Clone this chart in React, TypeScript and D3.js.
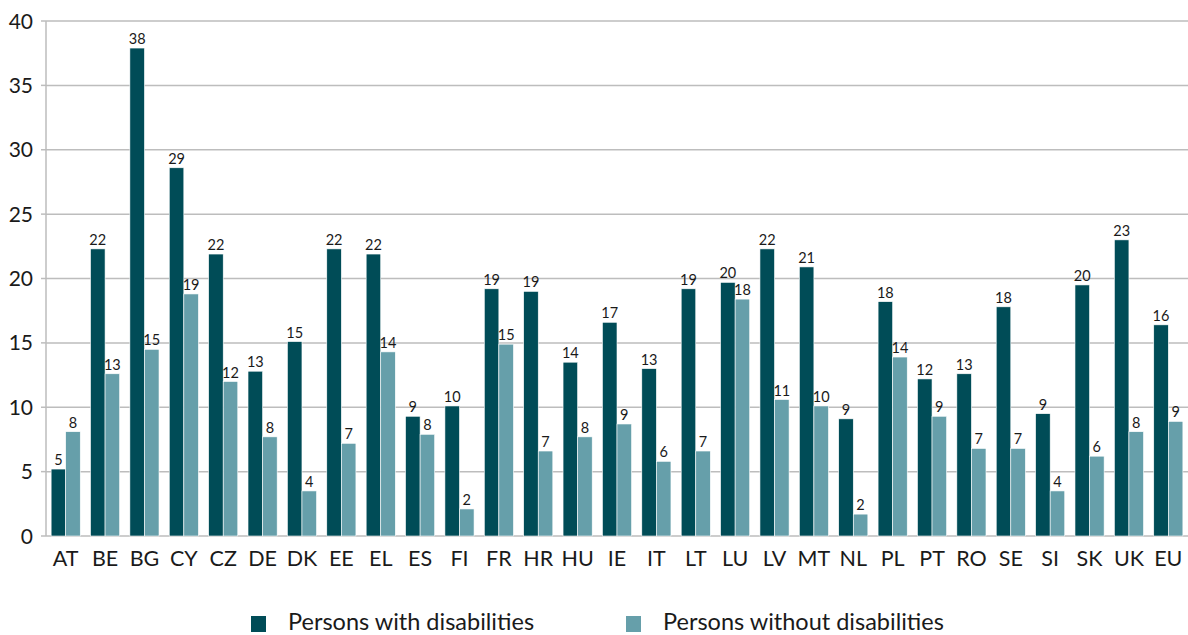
import * as d3 from 'd3'

const countries = [
  'AT', 'BE', 'BG', 'CY', 'CZ', 'DE', 'DK', 'EE', 'EL', 'ES', 'FI', 'FR', 'HR', 'HU', 'IE',
  'IT', 'LT', 'LU', 'LV', 'MT', 'NL', 'PL', 'PT', 'RO', 'SE', 'SI', 'SK', 'UK', 'EU',
]

const withDisabilities = [
  5.2, 22.3, 37.9, 28.6, 21.9, 12.8, 15.1, 22.3, 21.9, 9.3, 10.1, 19.2, 19.0, 13.5, 16.6,
  13.0, 19.2, 19.7, 22.3, 20.9, 9.1, 18.2, 12.2, 12.6, 17.8, 9.5, 19.5, 23.0, 16.4,
]

const withoutDisabilities = [
  8.1, 12.6, 14.5, 18.8, 12.0, 7.7, 3.5, 7.2, 14.3, 7.9, 2.1, 14.9, 6.6, 7.7, 8.7,
  5.8, 6.6, 18.4, 10.6, 10.1, 1.7, 13.9, 9.3, 6.8, 6.8, 3.5, 6.2, 8.1, 8.9,
]

// rounded labels as printed on the chart
const withLabels = [
  5, 22, 38, 29, 22, 13, 15, 22, 22, 9, 10, 19, 19, 14, 17,
  13, 19, 20, 22, 21, 9, 18, 12, 13, 18, 9, 20, 23, 16,
]

const withoutLabels = [
  8, 13, 15, 19, 12, 8, 4, 7, 14, 8, 2, 15, 7, 8, 9,
  6, 7, 18, 11, 10, 2, 14, 9, 7, 7, 4, 6, 8, 9,
]

const seriesNames = ['Persons with disabilities', 'Persons without disabilities']
const yTicks = [0, 5, 10, 15, 20, 25, 30, 35, 40]

const colors = ['#004C57', '#669FAA']
const font = 'Lato, "Open Sans", sans-serif'

export default function App() {
  const width = 1188
  const height = 635
  const margin = { top: 21, right: 0, bottom: 99, left: 46 }
  const innerW = width - margin.left - margin.right
  const innerH = height - margin.top - margin.bottom

  const x0 = d3
    .scaleBand<string>()
    .domain(countries)
    .range([0, innerW])
    .paddingInner(0.26)
    .paddingOuter(0.13)

  const x1 = d3
    .scaleBand<number>()
    .domain([0, 1])
    .range([0, x0.bandwidth()])

  const y = d3.scaleLinear().domain([0, 40]).range([innerH, 0])

  const series = [withDisabilities, withoutDisabilities]
  const labels = [withLabels, withoutLabels]

  return (
    <svg
      width={width}
      height={height}
      style={{ position: 'absolute', left: 0, top: 0, background: '#fff' }}
      fontFamily={font}
    >
      <g transform={`translate(${margin.left},${margin.top})`}>
        {/* grid lines */}
        {yTicks.map(t => (
          <g key={t}>
            <line x1={0} x2={innerW} y1={y(t)} y2={y(t)} stroke="#BDBDBD" strokeWidth={1.5} />
            <line x1={-5} x2={0} y1={y(t)} y2={y(t)} stroke="#BDBDBD" strokeWidth={1.5} />
            <text
              x={-13}
              y={y(t)}
              dy="0.36em"
              textAnchor="end"
              fontSize={21}
              fill="#1a1a1a"
            >
              {t}
            </text>
          </g>
        ))}
        <line x1={0} x2={0} y1={0} y2={innerH} stroke="#BDBDBD" strokeWidth={1.5} />

        {/* bars */}
        {countries.map((c, i) => (
          <g key={c} transform={`translate(${x0(c)},0)`}>
            {series.map((s, k) => (
              <g key={k}>
                <rect
                  x={x1(k)}
                  y={y(s[i])}
                  width={x1.bandwidth()}
                  height={innerH - y(s[i])}
                  fill={colors[k]}
                  stroke="#fff"
                  strokeWidth={0.6}
                />
                <text
                  x={(x1(k) ?? 0) + x1.bandwidth() / 2}
                  y={y(s[i]) - 4}
                  textAnchor="middle"
                  fontSize={14.5}
                  fill="#1a1a1a"
                >
                  {labels[k][i]}
                </text>
              </g>
            ))}
            <text
              x={x0.bandwidth() / 2}
              y={innerH + 30}
              textAnchor="middle"
              fontSize={21.5}
              fill="#1a1a1a"
            >
              {c}
            </text>
          </g>
        ))}
      </g>

      {/* legend */}
      {seriesNames.map((name, k) => {
        const lx = k === 0 ? 251 : 626
        return (
          <g key={name} transform={`translate(${lx},616)`}>
            <rect x={0} y={0} width={15} height={16} fill={colors[k]} />
            <text x={37} y={14} fontSize={23.5} fill="#1a1a1a">
              {name}
            </text>
          </g>
        )
      })}
    </svg>
  )
}
